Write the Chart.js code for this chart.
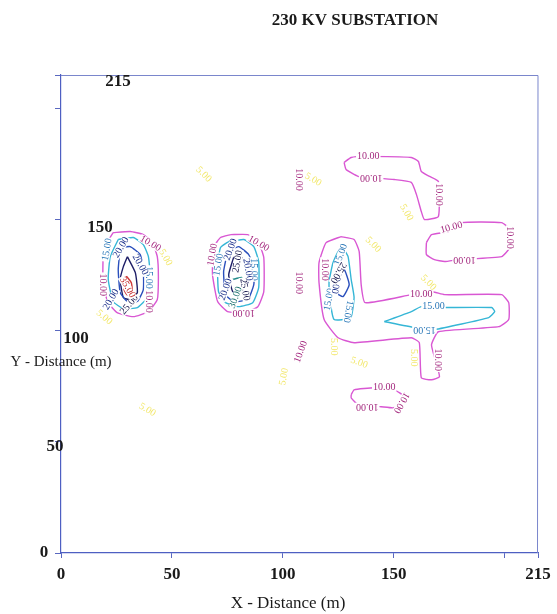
<!DOCTYPE html>
<html>
<head>
<meta charset="utf-8">
<title>230 KV Substation</title>
<script src="https://cdn.jsdelivr.net/npm/chart.js@4.4.1/dist/chart.umd.min.js"></script>
<style>
  html, body { margin: 0; padding: 0; background: #fff; }
  #wrap { width: 557px; height: 614px; position: relative; }
</style>
</head>
<body>
<div id="wrap"><canvas id="contour"></canvas></div>
<script>
// axis ticks (m)
var xTicks = [0, 50, 100, 150, 200, 215];
var xTickLabels = ['0', '50', '100', '150', '', '215'];
var yTicks = [0, 50, 100, 150, 200, 215];
var yTickLabels = ['0', '50', '100', '150', '', '215'];

// contour lines, [x, y] in metres
// left group
var left10 = [[23.5,144.1],[31.2,144.6],[37.1,143.2],[41.2,139.6],[43.4,133.3],[43.9,124.3],[43.4,114.0],[39.4,108.6],[32.6,106.3],[25.3,108.1],[21.3,112.6],[19.0,119.8],[19.0,132.0],[20.8,139.6]];
var left15 = [[25.8,141.0],[32.6,141.9],[37.1,138.7],[39.4,133.3],[40.3,123.0],[38.9,114.9],[34.4,110.4],[28.1,109.9],[23.5,113.1],[21.3,123.0],[22.2,133.3]];
var left20 = [[26.7,137.4],[31.2,137.8],[35.7,134.2],[37.1,127.5],[37.1,118.5],[34.4,113.1],[29.9,113.1],[26.7,117.1],[25.8,127.5]];
var left25 = [[29.9,133.3],[33.5,126.1],[34.4,117.1],[31.2,114.0],[28.1,114.9],[26.7,123.0],[28.1,128.8]];
var left35 = [[29.5,124.5],[31.7,121.6],[32.1,117.6],[29.9,116.0],[28.4,118.5]];
// middle group
var mid10 = [[76.5,143.2],[84.2,143.2],[89.1,139.6],[91.4,132.9],[91.4,117.6],[88.7,110.8],[82.4,108.1],[75.1,108.6],[70.6,113.1],[68.3,125.2],[68.8,137.4],[71.9,141.9]];
var mid15 = [[75.6,140.1],[82.4,141.0],[86.9,137.8],[89.1,131.1],[89.1,119.4],[86.4,112.6],[80.1,110.8],[74.2,112.6],[71.0,117.6],[70.6,129.7],[71.9,137.4]];
var mid20 = [[75.1,135.6],[80.1,137.8],[84.6,134.2],[86.9,128.4],[86.9,120.7],[84.2,114.0],[77.8,113.1],[74.2,116.2],[73.3,126.6]];
var mid25 = [[77.8,132.9],[81.0,133.3],[84.2,128.4],[84.2,121.6],[81.0,117.1],[77.4,117.6],[75.6,125.2]];
var mid30 = [[77.4,123.0],[81.5,123.9],[82.4,119.4]];
// right group
var right10 = [[126.2,142.3],[132.1,141.0],[134.4,135.6],[135.3,120.7],[137.1,112.6],[157.9,116.2],[167.0,117.6],[172.9,116.2],[198.6,116.2],[201.8,112.6],[201.8,105.0],[197.3,101.8],[170.1,99.5],[167.0,93.7],[168.3,88.3],[170.6,79.3],[167.0,77.9],[162.4,78.8],[161.5,94.6],[157.9,96.8],[132.1,94.6],[124.9,96.8],[118.6,105.0],[116.3,121.6],[116.3,130.6],[119.5,139.6]];
var right15a = [[127.1,137.4],[129.4,133.3],[130.8,123.0],[132.1,114.9],[130.8,106.3],[127.6,105.0],[123.1,105.0],[121.7,110.8],[120.8,121.6],[122.6,130.6],[124.9,135.6]];
var right15b = [[145.7,104.1],[157.9,108.6],[162.4,110.8],[170.1,110.4],[194.1,110.4],[195.5,108.6],[192.8,105.9],[168.3,100.5],[159.3,101.4]];
var right20 = [[124.0,126.1],[127.6,127.5],[129.9,120.7],[127.1,115.3],[124.0,117.1],[123.1,121.6]];
var upper10 = [[127.6,175.7],[130.8,177.9],[136.7,178.4],[157.9,177.9],[161.1,176.1],[162.4,171.6],[166.1,169.4],[170.1,167.1],[170.1,151.4],[163.8,150.0],[162.4,153.6],[160.2,161.3],[157.9,166.7],[150.2,168.0],[138.9,168.9],[133.9,169.4],[128.5,172.5]];
var loop10 = [[164.7,139.6],[167.0,143.2],[174.7,144.6],[180.5,148.6],[198.6,148.6],[202.3,145.5],[202.3,137.4],[198.6,133.3],[179.2,132.0],[172.9,131.1],[168.3,132.0],[164.7,134.2]];
var low10 = [[130.8,71.2],[132.1,73.4],[141.2,74.3],[150.2,73.4],[154.8,70.3],[154.3,66.7],[149.8,65.3],[144.3,65.8],[133.9,66.7],[130.8,69.8]];

// contour labels: [x, y, angle in degrees]
var labels10 = [[40.3,139.2,30],[18.6,120.7,90],[39.4,113.1,90],[89.1,139.2,30],[68.3,134.2,-80],[82.4,108.1,180],
  [118.6,127.5,90],[162.4,116.2,0],[169.7,86.9,90],[138.5,178.4,0],[139.8,168.9,180],[170.1,161.3,90],
  [176.0,146.4,-15],[202.3,141.9,90],[181.9,132.0,180],[145.7,74.3,0],[138.0,65.8,180],[153.4,67.6,120],
  [107.2,168.0,90],[107.2,121.6,90],[108.1,90.5,-70]];
var labels15 = [[20.8,136.5,-80],[39.4,123.9,90],[71.0,129.7,-80],[86.9,127.5,90],[126.2,134.2,-70],[120.8,114.0,-80],[129.4,108.6,100],[167.9,110.8,0],[163.8,100.5,180]];
var labels20 = [[27.1,137.4,-60],[35.7,129.7,60],[22.6,114.0,-60],[76.5,136.5,-70],[84.2,127.5,80],[74.2,118.5,-70],[124.0,121.6,100]];
var labels25 = [[30.8,111.7,-50],[79.6,131.1,-80],[82.8,118.5,80],[124.9,126.1,120]];
var labels30 = [[78.7,114.9,-70]];
var labels35 = [[29.9,119.5,60]];
var labels5 = [[64.3,170.3,45],[113.6,168.0,30],[155.7,153.2,60],[140.7,138.7,45],[47.1,132.9,60],[165.6,121.6,45],[100.5,79.3,-80],[38.9,64.4,30],[123.1,92.8,90],[134.4,85.6,20],[158.8,87.8,90],[19.5,106.0,40]];

// drawing styles
var lineColor = {10: '#d957d3', 15: '#35b6d6', 20: '#2a4fbc', 25: '#1d1d66', 30: '#238c8a', 35: '#d03a3a'};
var textColor = {5: '#f2e76a', 10: '#a3287e', 15: '#2b78b8', 20: '#1b2f8a', 25: '#14144a', 30: '#1f7370', 35: '#c42828'};
var serif = "'Liberation Serif', 'DejaVu Serif', serif";

function closed(pts) {
  return pts.concat([pts[0]]).map(function (p) { return {x: p[0], y: p[1]}; });
}
function open(pts) {
  return pts.map(function (p) { return {x: p[0], y: p[1]}; });
}

var contours = [
  [10, left10, true], [15, left15, true], [20, left20, true], [25, left25, true], [35, left35, true],
  [10, mid10, true], [15, mid15, true], [20, mid20, true], [25, mid25, true], [30, mid30, false],
  [10, right10, true], [15, right15a, true], [15, right15b, true], [20, right20, true],
  [10, upper10, true], [10, loop10, true], [10, low10, true]
];

var datasets = contours.map(function (c) {
  return {
    label: c[0].toFixed(2),
    data: c[2] ? closed(c[1]) : open(c[1]),
    showLine: true,
    borderColor: lineColor[c[0]],
    borderWidth: 1.4,
    pointRadius: 0,
    tension: 0.15,
    fill: false
  };
});

var labelGroups = [[5, labels5], [10, labels10], [15, labels15], [20, labels20], [25, labels25], [30, labels30], [35, labels35]];

var contourLabels = {
  id: 'contourLabels',
  afterDatasetsDraw: function (chart) {
    var ctx = chart.ctx, xs = chart.scales.x, ys = chart.scales.y;
    ctx.save();
    ctx.font = "10px " + serif;
    ctx.textAlign = 'center';
    ctx.textBaseline = 'middle';
    labelGroups.forEach(function (g) {
      var txt = g[0].toFixed(2);
      g[1].forEach(function (l) {
        ctx.save();
        ctx.translate(xs.getPixelForValue(l[0]), ys.getPixelForValue(l[1]));
        ctx.rotate(l[2] * Math.PI / 180);
        if (g[0] !== 5) {
          var w = ctx.measureText(txt).width;
          ctx.fillStyle = '#fff';
          ctx.fillRect(-w / 2 - 1, -4, w + 2, 8);
        }
        ctx.fillStyle = textColor[g[0]];
        ctx.fillText(txt, 0, 0);
        ctx.restore();
      });
    });
    ctx.restore();
  }
};

// frame, skewed y labels and titles as on the scanned sheet
var yLabelX = [44, 55, 76, 100, 0, 118];
var yLabelDy = [0, 5, 8, 8, 0, 7];
var frameAndText = {
  id: 'frameAndText',
  afterDraw: function (chart) {
    var ctx = chart.ctx, a = chart.chartArea, ys = chart.scales.y;
    ctx.save();
    ctx.strokeStyle = '#7a86cc';
    ctx.lineWidth = 1;
    ctx.beginPath();
    ctx.moveTo(a.left, a.top + 0.5);
    ctx.lineTo(a.right, a.top + 0.5);
    ctx.lineTo(a.right - 0.5, a.bottom);
    ctx.stroke();

    ctx.fillStyle = '#1a1a1a';
    ctx.textAlign = 'center';
    ctx.textBaseline = 'middle';
    ctx.font = "bold 17px " + serif;
    yTicks.forEach(function (v, i) {
      if (!yTickLabels[i]) return;
      ctx.fillText(yTickLabels[i], yLabelX[i], ys.getPixelForValue(v) + yLabelDy[i]);
    });

    ctx.font = "bold 17px " + serif;
    ctx.fillText('230 KV SUBSTATION', 355, 21);
    ctx.font = "17px " + serif;
    ctx.fillText('X - Distance (m)', 288, 604);
    ctx.font = "15px " + serif;
    ctx.fillText('Y - Distance (m)', 61, 362);
    ctx.restore();
  }
};

new Chart(document.getElementById('contour').getContext('2d'), {
  type: 'scatter',
  data: { datasets: datasets },
  options: {
    responsive: true,
    maintainAspectRatio: false,
    animation: false,
    layout: { padding: { left: 0, top: 75, right: 19, bottom: 0 } },
    plugins: {
      legend: { display: false },
      title: { display: false },
      tooltip: { enabled: false }
    },
    scales: {
      x: {
        type: 'linear',
        min: 0,
        max: 215,
        afterBuildTicks: function (scale) {
          scale.ticks = xTicks.map(function (v) { return {value: v}; });
        },
        afterFit: function (scale) { scale.height = 61; },
        ticks: {
          autoSkip: false,
          maxRotation: 0,
          padding: 6,
          color: '#1a1a1a',
          font: { family: serif, size: 17, weight: 'bold' },
          callback: function (v) {
            var i = xTicks.indexOf(v);
            return i < 0 ? '' : xTickLabels[i];
          }
        },
        grid: { drawOnChartArea: false, drawTicks: true, tickLength: 5, color: '#5a68c0' },
        border: { color: '#4e5fc2', width: 1.2 }
      },
      y: {
        type: 'linear',
        min: 0,
        max: 215,
        afterBuildTicks: function (scale) {
          scale.ticks = yTicks.map(function (v) { return {value: v}; });
        },
        afterFit: function (scale) { scale.width = 61; },
        ticks: { display: false },
        grid: { drawOnChartArea: false, drawTicks: true, tickLength: 6, color: '#5a68c0' },
        border: { color: '#4e5fc2', width: 1.2 }
      }
    }
  },
  plugins: [contourLabels, frameAndText]
});
</script>
</body>
</html>
